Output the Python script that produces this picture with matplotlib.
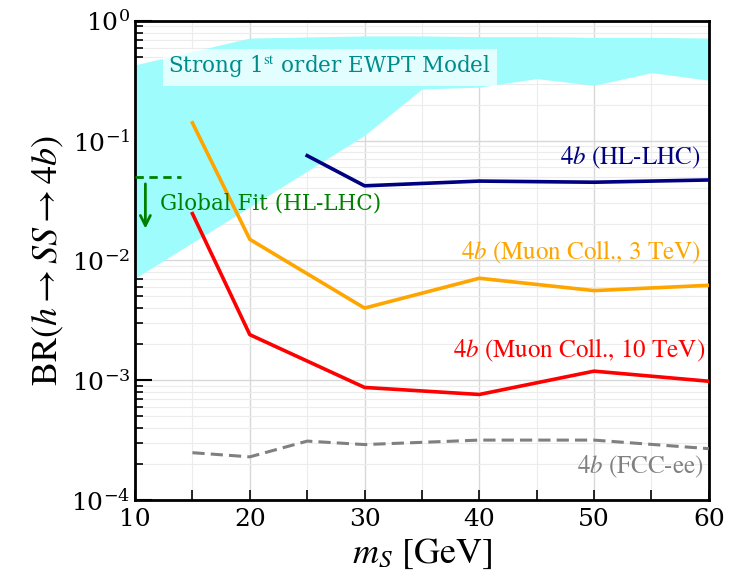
import numpy as np
import matplotlib
matplotlib.use('Agg')
import matplotlib.pyplot as plt
from matplotlib.ticker import LogLocator, MultipleLocator, NullFormatter

plt.rcParams['font.family'] = ['DejaVu Serif']
plt.rcParams['mathtext.fontset'] = 'stix'

# EWPT model band
band_x = [10, 20, 30, 35, 40, 45, 50, 55, 60]
band_lo = [0.0071, 0.028, 0.111, 0.27, 0.28, 0.33, 0.29, 0.37, 0.32]
band_hi = [0.43, 0.72, 0.75, 0.75, 0.74, 0.74, 0.73, 0.73, 0.72]

# 4b (HL-LHC)
hl_x = [25, 30, 40, 50, 60]
hl_y = [0.075, 0.042, 0.046, 0.045, 0.047]

# 4b (Muon Coll., 3 TeV)
mu3_x = [15, 20, 30, 40, 50, 60]
mu3_y = [0.141, 0.015, 0.0040, 0.0071, 0.0056, 0.0062]

# 4b (Muon Coll., 10 TeV)
mu10_x = [15, 20, 30, 40, 50, 60]
mu10_y = [0.0246, 0.0024, 0.00087, 0.00076, 0.00119, 0.00098]

# 4b (FCC-ee)
fcc_x = [15, 20, 25, 30, 40, 50, 60]
fcc_y = [0.000248, 0.000229, 0.00031, 0.00029, 0.000316, 0.000316, 0.000268]

# global fit
gf_x = [10, 14]
gf_y = 0.05

fig = plt.figure(figsize=(7.3, 5.82), dpi=100)
ax = fig.add_axes([0.185, 0.141, 0.786, 0.823])

ax.fill_between(band_x, band_lo, band_hi, color='#9ffcfc', lw=0, zorder=1)

ax.plot(hl_x, hl_y, color='navy', lw=2.6, zorder=3)
ax.plot(mu3_x, mu3_y, color='orange', lw=2.6, zorder=3)
ax.plot(mu10_x, mu10_y, color='red', lw=2.6, zorder=3)
ax.plot(fcc_x, fcc_y, color='gray', lw=2.2, ls='--', dashes=(4, 2), zorder=3)

ax.plot(gf_x, [gf_y, gf_y], color='green', lw=2, ls='--', dashes=(3, 2), zorder=3)
ax.annotate('', xy=(10.9, 0.0175), xytext=(10.9, 0.046),
            arrowprops=dict(arrowstyle='->', color='green', lw=2, mutation_scale=18),
            zorder=3)
ax.text(12.2, 0.030, 'Global Fit (HL-LHC)', color='green', fontsize=15.5,
        va='center', ha='left', zorder=4)

ax.text(12.9, 0.41, r'Strong 1$^{\mathrm{st}}$ order EWPT Model', color='darkcyan',
        fontsize=15.5, va='center', ha='left', zorder=4,
        bbox=dict(facecolor='white', edgecolor='none', alpha=0.7, pad=4))

lab_kw = dict(fontsize=18, ha='right', va='center', zorder=4, family='STIXGeneral')
ax.text(59.3, 0.072, r'$4b$ (HL-LHC)', color='navy', **lab_kw)
ax.text(59.3, 0.0116, r'$4b$ (Muon Coll., 3 TeV)', color='orange', **lab_kw)
ax.text(59.7, 0.00178, r'$4b$ (Muon Coll., 10 TeV)', color='red', **lab_kw)
ax.text(59.5, 0.00019, r'$4b$ (FCC-ee)', color='gray', **lab_kw)

ax.set_yscale('log')
ax.set_xlim(10, 60)
ax.set_ylim(1e-4, 1)
ax.xaxis.set_major_locator(MultipleLocator(10))
ax.xaxis.set_minor_locator(MultipleLocator(5))
ax.yaxis.set_major_locator(LogLocator(base=10, numticks=10))
ax.yaxis.set_minor_locator(LogLocator(base=10, subs=np.arange(2, 10), numticks=100))
ax.yaxis.set_minor_formatter(NullFormatter())

ax.tick_params(which='both', direction='in', top=False, right=False, labelsize=18)
ax.tick_params(axis='y', which='major', length=12, width=1.5)
ax.tick_params(axis='y', which='minor', length=6, width=1.2)
ax.tick_params(axis='x', which='both', length=7, width=1.2)
ax.tick_params(axis='x', pad=6)

ax.grid(which='major', color='#d8d8d8', lw=1.0, zorder=0)
ax.grid(which='minor', color='#ececec', lw=0.8, zorder=0)
ax.set_axisbelow(True)

for s in ax.spines.values():
    s.set_linewidth(2)

ax.set_xlabel(r'$m_S$ [GeV]', fontsize=26, labelpad=4, family='STIXGeneral')
ax.set_ylabel(r'BR$(h\rightarrow SS\rightarrow 4b)$', fontsize=26, labelpad=4,
              family='STIXGeneral')

fig.savefig('out.png', dpi=100)
